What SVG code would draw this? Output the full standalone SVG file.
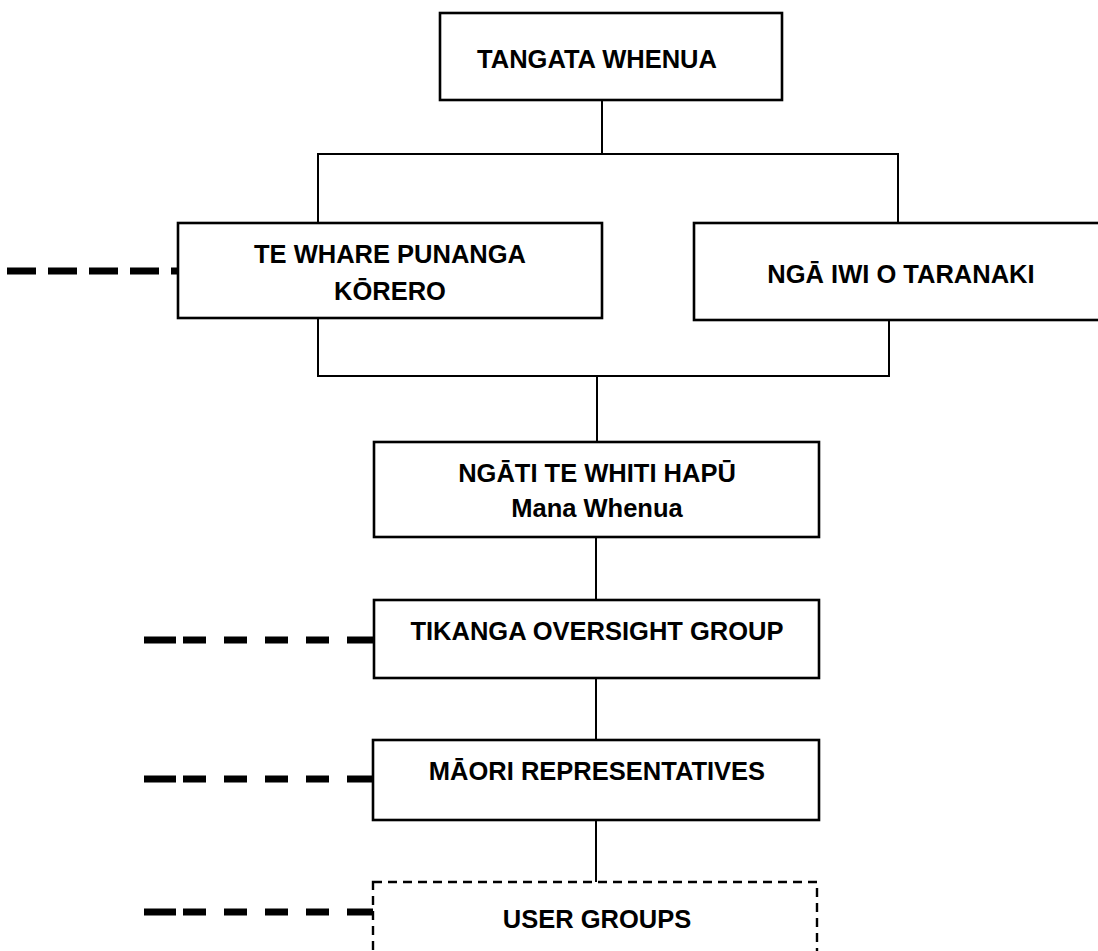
<svg xmlns="http://www.w3.org/2000/svg" width="1098" height="951" viewBox="0 0 1098 951">
<style>
.box{fill:#fff;stroke:#000;stroke-width:2.6}
.ubox{fill:#fff;stroke:#000;stroke-width:2.4;stroke-dasharray:9 6}
.ln{fill:none;stroke:#000;stroke-width:2}
.dl{fill:none;stroke:#000;stroke-width:7}
.dl1{stroke-dasharray:29 12}
.dl2{stroke-dasharray:32 7 23 18 23 18 23 18 23 18 30 200}
text{font-family:"Liberation Sans",Arial,sans-serif;font-weight:bold;font-size:25.5px;fill:#000;text-anchor:middle}
</style>
<rect width="1098" height="951" fill="#fff"/>
<g id="connectors">
<line class="ln" x1="602" y1="100" x2="602" y2="154"/>
<polyline class="ln" points="318,223 318,154 898,154 898,223"/>
<polyline class="ln" points="318,318 318,376 889,376 889,320"/>
<line class="ln" x1="597" y1="376" x2="597" y2="442"/>
<line class="ln" x1="596" y1="537" x2="596" y2="600"/>
<line class="ln" x1="596" y1="678" x2="596" y2="740"/>
<line class="ln" x1="596" y1="820" x2="596" y2="882"/>
<line class="dl dl1" x1="7" y1="271" x2="178" y2="271"/>
<line class="dl dl2" x1="144" y1="640" x2="374" y2="640"/>
<line class="dl dl2" x1="144" y1="779" x2="373" y2="779"/>
<line class="dl dl2" x1="144" y1="912" x2="373" y2="912"/>
</g>
<g id="tangata-whenua">
<rect class="box" x="440" y="13" width="342" height="87"/>
<text x="597" y="68">TANGATA WHENUA</text>
</g>
<g id="te-whare-punanga-korero">
<rect class="box" x="178" y="223" width="424" height="95"/>
<text x="390" y="263">TE WHARE PUNANGA</text>
<text x="390" y="300">KŌRERO</text>
</g>
<g id="nga-iwi-o-taranaki">
<rect class="box" x="694" y="223" width="410" height="97"/>
<text x="901" y="283">NGĀ IWI O TARANAKI</text>
</g>
<g id="ngati-te-whiti-hapu">
<rect class="box" x="374" y="442" width="445" height="95"/>
<text x="597" y="482">NGĀTI TE WHITI HAPŪ</text>
<text x="597" y="517">Mana Whenua</text>
</g>
<g id="tikanga-oversight-group">
<rect class="box" x="374" y="600" width="445" height="78"/>
<text x="597" y="640">TIKANGA OVERSIGHT GROUP</text>
</g>
<g id="maori-representatives">
<rect class="box" x="373" y="740" width="446" height="80"/>
<text x="597" y="780">MĀORI REPRESENTATIVES</text>
</g>
<g id="user-groups">
<rect class="ubox" x="373" y="882" width="444" height="100"/>
<text x="597" y="928">USER GROUPS</text>
</g>
</svg>
